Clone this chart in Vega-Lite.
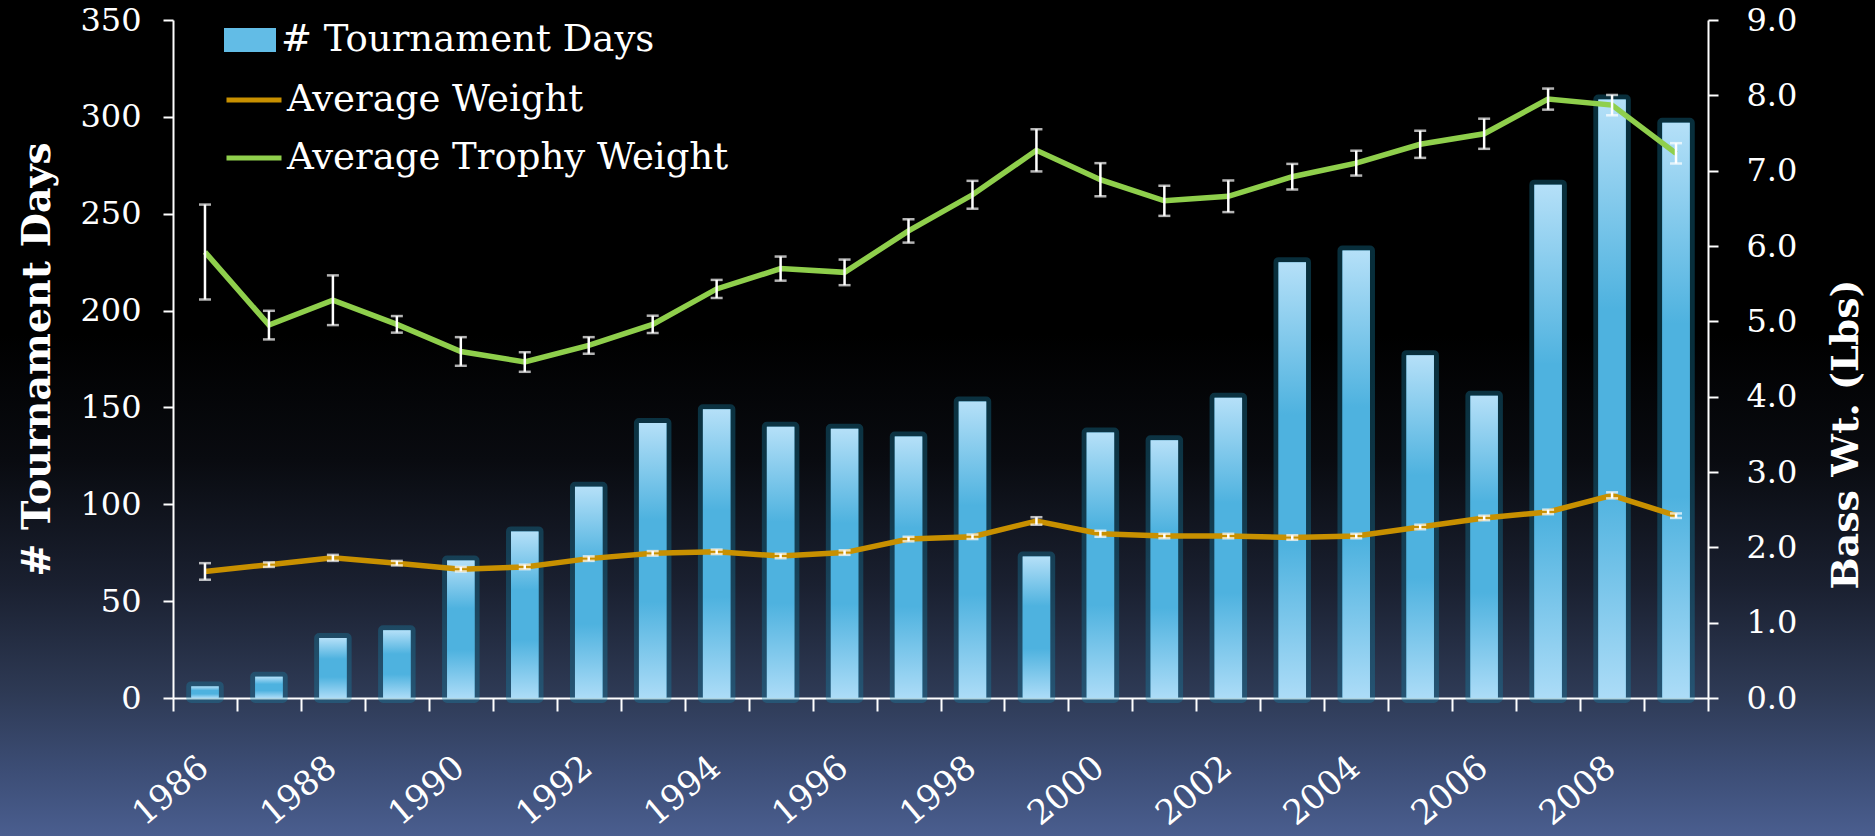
{
  "$schema": "https://vega.github.io/schema/vega-lite/v6.json",
  "width": 1875,
  "height": 836,
  "autosize": "none",
  "padding": 0,
  "background": "#000000",
  "config": {
    "view": {
      "stroke": null,
      "fill": {
        "gradient": "linear", "x1": 0, "y1": 0, "x2": 0, "y2": 1,
        "stops": [
          {"offset": 0, "color": "#000000"},
          {"offset": 0.40, "color": "#000000"},
          {"offset": 0.55, "color": "#090b10"},
          {"offset": 0.70, "color": "#1a2030"},
          {"offset": 0.83, "color": "#2e3a55"},
          {"offset": 0.92, "color": "#3c4d75"},
          {"offset": 1, "color": "#4a5e8f"}
        ]
      }
    },
    "axis": {
      "domainColor": "#ffffff", "domainWidth": 2,
      "tickColor": "#ffffff", "tickWidth": 2,
      "labelColor": "#ffffff", "titleColor": "#ffffff",
      "grid": false,
      "labelFont": "DejaVu Serif", "titleFont": "DejaVu Serif"
    },
    "legend": {
      "labelColor": "#ffffff", "labelFont": "DejaVu Serif", "labelFontSize": 37,
      "labelLimit": 1000, "padding": 0, "title": null
    }
  },
  "data": {
    "values": [
      {"year": "1986", "days": 6, "avg": 1.68, "avgErr": 0.11, "trophy": 5.92, "trophyErr": 0.63},
      {"year": "1987", "days": 11, "avg": 1.77, "avgErr": 0.03, "trophy": 4.95, "trophyErr": 0.19},
      {"year": "1988", "days": 31, "avg": 1.86, "avgErr": 0.04, "trophy": 5.28, "trophyErr": 0.33},
      {"year": "1989", "days": 35, "avg": 1.79, "avgErr": 0.03, "trophy": 4.96, "trophyErr": 0.11},
      {"year": "1990", "days": 71, "avg": 1.71, "avgErr": 0.03, "trophy": 4.60, "trophyErr": 0.19},
      {"year": "1991", "days": 86, "avg": 1.74, "avgErr": 0.03, "trophy": 4.46, "trophyErr": 0.13},
      {"year": "1992", "days": 109, "avg": 1.85, "avgErr": 0.03, "trophy": 4.68, "trophyErr": 0.11},
      {"year": "1993", "days": 142, "avg": 1.92, "avgErr": 0.03, "trophy": 4.96, "trophyErr": 0.115},
      {"year": "1994", "days": 149, "avg": 1.94, "avgErr": 0.03, "trophy": 5.43, "trophyErr": 0.12},
      {"year": "1995", "days": 140, "avg": 1.885, "avgErr": 0.03, "trophy": 5.70, "trophyErr": 0.16},
      {"year": "1996", "days": 139, "avg": 1.93, "avgErr": 0.03, "trophy": 5.65, "trophyErr": 0.17},
      {"year": "1997", "days": 135, "avg": 2.11, "avgErr": 0.03, "trophy": 6.20, "trophyErr": 0.155},
      {"year": "1998", "days": 153, "avg": 2.14, "avgErr": 0.03, "trophy": 6.68, "trophyErr": 0.185},
      {"year": "1999", "days": 73, "avg": 2.35, "avgErr": 0.05, "trophy": 7.27, "trophyErr": 0.28},
      {"year": "2000", "days": 137, "avg": 2.18, "avgErr": 0.04, "trophy": 6.88, "trophyErr": 0.22},
      {"year": "2001", "days": 133, "avg": 2.15, "avgErr": 0.03, "trophy": 6.60, "trophyErr": 0.20},
      {"year": "2002", "days": 155, "avg": 2.15, "avgErr": 0.03, "trophy": 6.66, "trophyErr": 0.21},
      {"year": "2003", "days": 225, "avg": 2.13, "avgErr": 0.03, "trophy": 6.92, "trophyErr": 0.17},
      {"year": "2004", "days": 231, "avg": 2.15, "avgErr": 0.03, "trophy": 7.10, "trophyErr": 0.165},
      {"year": "2005", "days": 177, "avg": 2.27, "avgErr": 0.03, "trophy": 7.35, "trophyErr": 0.18},
      {"year": "2006", "days": 156, "avg": 2.39, "avgErr": 0.03, "trophy": 7.49, "trophyErr": 0.20},
      {"year": "2007", "days": 265, "avg": 2.47, "avgErr": 0.03, "trophy": 7.95, "trophyErr": 0.14},
      {"year": "2008", "days": 309, "avg": 2.69, "avgErr": 0.04, "trophy": 7.87, "trophyErr": 0.135},
      {"year": "2009", "days": 297, "avg": 2.42, "avgErr": 0.03, "trophy": 7.23, "trophyErr": 0.135}
    ]
  },
  "encoding": {
    "x": {
      "field": "year", "type": "ordinal",
      "scale": {"range": [173, 1708], "paddingInner": 0, "paddingOuter": 0},
      "axis": {
        "title": null, "orient": "bottom", "offset": -138,
        "tickBand": "extent", "tickSize": 13,
        "labelAngle": -40, "labelFontSize": 34,
        "labelAlign": "right", "labelBaseline": "top",
        "labelPadding": 39, "labelOffset": -12,
        "labelExpr": "toNumber(datum.value) % 2 == 0 ? datum.label : ''"
      }
    }
  },
  "layer": [
    {
      "encoding": {
        "y": {
          "field": "days", "type": "quantitative",
          "scale": {"domain": [0, 350], "range": [698, 20], "nice": false},
          "axis": {
            "title": "# Tournament Days", "orient": "left", "offset": -173,
            "values": [0, 50, 100, 150, 200, 250, 300, 350],
            "tickSize": 10, "labelFontSize": 32, "labelPadding": 22,
            "titleFontSize": 39.5, "titleFontWeight": "bold", "titlePadding": 22
          }
        }
      },
      "layer": [
        {
          "mark": {"type": "bar", "width": {"band": 0.43}, "stroke": "#1683a8", "strokeWidth": 10, "strokeOpacity": 0.35, "strokeJoin": "round"},
          "encoding": {
            "color": {
              "datum": "# Tournament Days",
              "scale": {"domain": ["# Tournament Days"], "range": ["#62bce6"]},
              "legend": {
                "orient": "none", "legendX": 224, "legendY": 14,
                "symbolType": "M-1,-0.46L1,-0.46L1,0.46L-1,0.46Z",
                "symbolSize": 2704, "symbolStrokeWidth": 0, "symbolOpacity": 1, "labelOffset": 5
              }
            }
          }
        },
        {
          "mark": {
            "type": "bar", "width": {"band": 0.43},
            "color": {
              "gradient": "linear", "x1": 0, "y1": 0, "x2": 0, "y2": 1,
              "stops": [
                {"offset": 0, "color": "#b5e0f8"},
                {"offset": 0.35, "color": "#4eb2df"},
                {"offset": 0.65, "color": "#4eb2df"},
                {"offset": 1, "color": "#acdcf7"}
              ]
            }
          }
        }
      ]
    },
    {
      "layer": [
        {
          "mark": {"type": "line", "strokeWidth": 5.5},
          "encoding": {
            "y": {
              "field": "avg", "type": "quantitative",
              "scale": {"domain": [0, 9], "range": [698, 20], "nice": false},
              "axis": {
                "title": "Bass Wt. (Lbs)", "orient": "right", "offset": -167,
                "values": [0, 1, 2, 3, 4, 5, 6, 7, 8, 9], "format": ".1f",
                "tickSize": 10, "labelFontSize": 32, "labelPadding": 28,
                "titleFontSize": 38, "titleFontWeight": "bold", "titleAngle": -90,
                "titleBaseline": "middle", "titleAlign": "center", "titleX": 138, "titleY": 434
              }
            },
            "color": {
              "datum": "Average Weight",
              "scale": {"domain": ["Average Weight", "Average Trophy Weight"], "range": ["#c89000", "#8fcf4c"]},
              "legend": {
                "orient": "none", "legendX": 224, "legendY": 70,
                "symbolType": "stroke", "symbolSize": 3025, "symbolStrokeWidth": 5,
                "labelOffset": 3, "rowPadding": 10
              }
            }
          }
        },
        {
          "mark": {"type": "line", "strokeWidth": 5.5},
          "encoding": {
            "y": {
              "field": "trophy", "type": "quantitative",
              "scale": {"domain": [0, 9], "range": [698, 20], "nice": false},
              "axis": {
                "title": "Bass Wt. (Lbs)", "orient": "right", "offset": -167,
                "values": [0, 1, 2, 3, 4, 5, 6, 7, 8, 9], "format": ".1f",
                "tickSize": 10, "labelFontSize": 32, "labelPadding": 28,
                "titleFontSize": 38, "titleFontWeight": "bold", "titleAngle": -90,
                "titleBaseline": "middle", "titleAlign": "center", "titleX": 138, "titleY": 434
              }
            },
            "color": {"datum": "Average Trophy Weight"}
          }
        },
        {
          "mark": {"type": "errorbar", "color": "#ffffff", "thickness": 2.5, "ticks": {"size": 12, "thickness": 2.5, "color": "#ffffff"}},
          "encoding": {
            "y": {
              "field": "avg", "type": "quantitative",
              "scale": {"domain": [0, 9], "range": [698, 20], "nice": false},
              "axis": {
                "title": "Bass Wt. (Lbs)", "orient": "right", "offset": -167,
                "values": [0, 1, 2, 3, 4, 5, 6, 7, 8, 9], "format": ".1f",
                "tickSize": 10, "labelFontSize": 32, "labelPadding": 28,
                "titleFontSize": 38, "titleFontWeight": "bold", "titleAngle": -90,
                "titleBaseline": "middle", "titleAlign": "center", "titleX": 138, "titleY": 434
              }
            },
            "yError": {"field": "avgErr"}
          }
        },
        {
          "mark": {"type": "errorbar", "color": "#ffffff", "thickness": 2.5, "ticks": {"size": 12, "thickness": 2.5, "color": "#ffffff"}},
          "encoding": {
            "y": {
              "field": "trophy", "type": "quantitative",
              "scale": {"domain": [0, 9], "range": [698, 20], "nice": false},
              "axis": {
                "title": "Bass Wt. (Lbs)", "orient": "right", "offset": -167,
                "values": [0, 1, 2, 3, 4, 5, 6, 7, 8, 9], "format": ".1f",
                "tickSize": 10, "labelFontSize": 32, "labelPadding": 28,
                "titleFontSize": 38, "titleFontWeight": "bold", "titleAngle": -90,
                "titleBaseline": "middle", "titleAlign": "center", "titleX": 138, "titleY": 434
              }
            },
            "yError": {"field": "trophyErr"}
          }
        }
      ]
    }
  ],
  "resolve": {"scale": {"y": "independent", "color": "independent"}, "axis": {"y": "independent"}, "legend": {"color": "independent"}}
}
